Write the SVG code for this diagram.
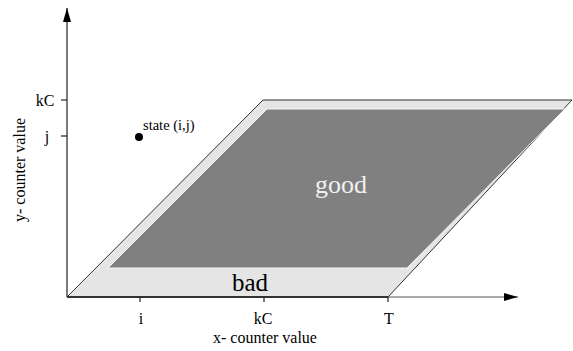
<svg xmlns="http://www.w3.org/2000/svg" width="573" height="351" viewBox="0 0 573 351">
<style>
text{font-family:"Liberation Serif","Times New Roman",serif;fill:#000}
.t{font-size:16px}
.ax{stroke:#222;stroke-width:1.2;fill:none}
</style>
<defs>
<marker id="ah" markerWidth="14" markerHeight="8" refX="14" refY="4" orient="auto" markerUnits="userSpaceOnUse">
<path d="M0,0 L14,4 L0,8 Z" fill="#000"/>
</marker>
</defs>
<rect width="573" height="351" fill="#fff"/>
<g id="region-bad">
<polygon points="67,297 388,297 572,100 263,100" fill="#e5e5e5" stroke="#333" stroke-width="1"/>
<text x="250" y="291" font-size="25" text-anchor="middle">bad</text>
</g>
<g id="region-good">
<polygon points="108,268 267,109 565,109 407,268" fill="#808080" stroke="#f5f5f5" stroke-width="1"/>
<text x="341" y="193" font-size="26" text-anchor="middle" style="fill:#f0f0f0">good</text>
</g>
<g id="axes">
<line class="ax" x1="67" y1="297" x2="67" y2="8" marker-end="url(#ah)"/>
<line x1="67" y1="297" x2="388" y2="297" stroke="#333" stroke-width="2"/>
<line x1="388" y1="297" x2="518" y2="297" stroke="#555" stroke-width="1.2" marker-end="url(#ah)"/>
<line class="ax" x1="140" y1="297" x2="140" y2="302"/>
<line class="ax" x1="264" y1="297" x2="264" y2="302"/>
<line class="ax" x1="388" y1="297" x2="388" y2="302"/>
<line class="ax" x1="61" y1="100" x2="67" y2="100"/>
<line class="ax" x1="61" y1="136" x2="67" y2="136"/>
<text class="t" x="141" y="324" text-anchor="middle">i</text>
<text class="t" x="263" y="324" text-anchor="middle">kC</text>
<text class="t" x="389" y="324" text-anchor="middle">T</text>
<text class="t" x="265" y="343" text-anchor="middle">x- counter value</text>
<text class="t" x="45" y="106" text-anchor="middle">kC</text>
<text class="t" x="47" y="142" text-anchor="middle">j</text>
<text class="t" transform="translate(25,170) rotate(-90)" text-anchor="middle">y- counter value</text>
</g>
<g id="state">
<circle cx="139" cy="137" r="4" fill="#000"/>
<text x="143" y="130" font-size="14.5">state (i,j)</text>
</g>
</svg>
